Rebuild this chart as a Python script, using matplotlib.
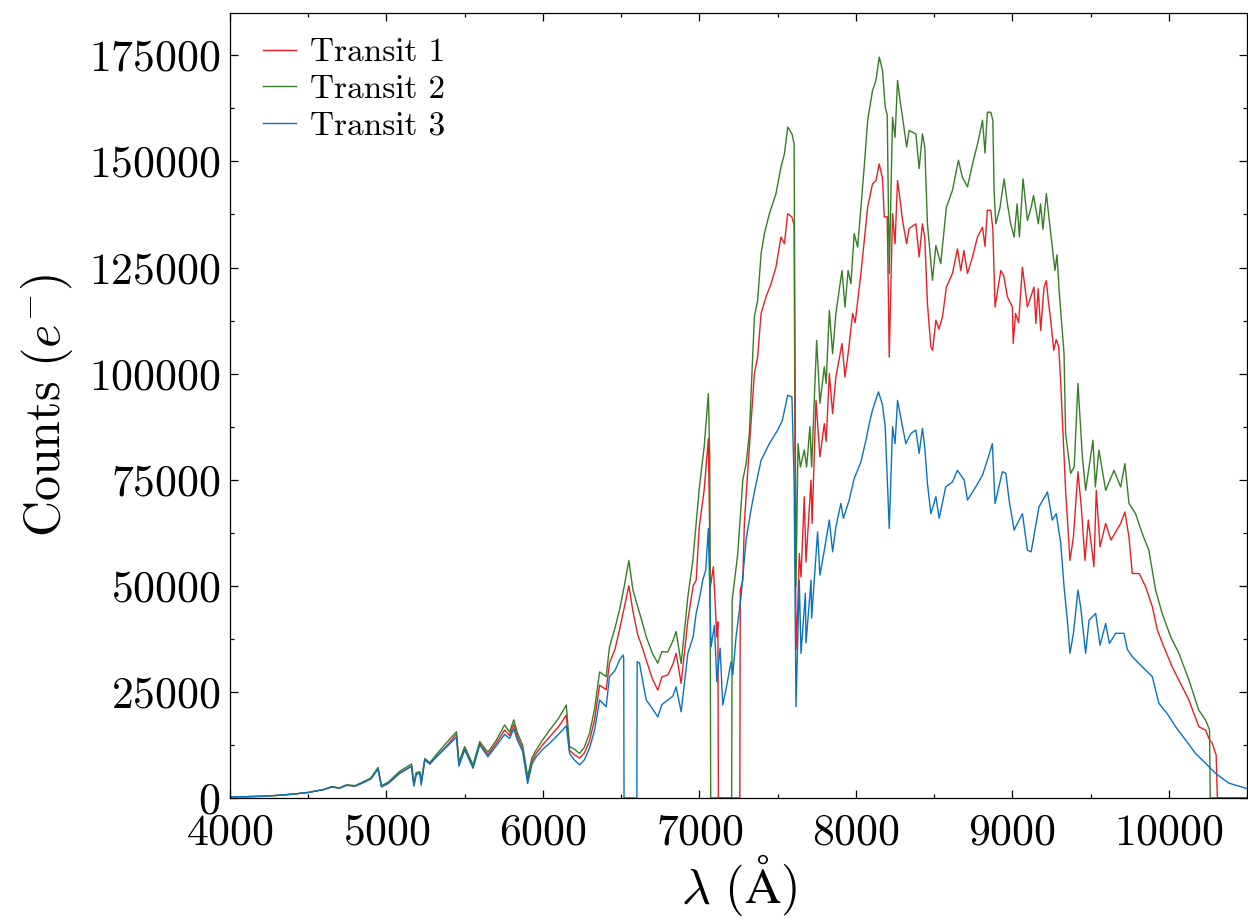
import numpy as np
import matplotlib
matplotlib.use('Agg')
import matplotlib.pyplot as plt
from matplotlib.ticker import MultipleLocator

plt.rcParams['font.family'] = 'serif'
plt.rcParams['font.serif'] = ['cmr10']
plt.rcParams['mathtext.fontset'] = 'cm'
plt.rcParams['axes.formatter.use_mathtext'] = True
plt.rcParams['axes.unicode_minus'] = False

# shared blue end of the spectrum (4000-6500 A)
wl_low = [4000, 4100, 4200, 4300, 4400, 4500, 4600, 4650, 4700, 4745,
          4800, 4850, 4900, 4946, 4968, 5010, 5085, 5160, 5175, 5190,
          5213, 5222, 5245, 5277, 5320, 5383, 5447, 5463, 5500, 5553,
          5596, 5648, 5702, 5755, 5787, 5813, 5838, 5870, 5902, 5930,
          5957, 6000, 6043, 6100, 6149, 6170, 6200, 6234, 6265, 6298,
          6330, 6362, 6404, 6425, 6460, 6489]
t1_low = [300, 300, 400, 600, 900, 1300, 2000, 2600, 2300, 3000,
          2800, 3600, 4500, 6900, 2700, 3400, 5800, 7500, 3000, 5700,
          5900, 3500, 9000, 8000, 9800, 12200, 15000, 8000, 11600, 7300,
          12800, 10200, 12900, 16000, 14700, 17300, 14300, 11700, 4200, 8700,
          10500, 12600, 14400, 16800, 19500, 11200, 10200, 9400, 10600, 13500,
          18500, 26600, 25500, 31800, 35000, 39600]
t2_low = [300, 300, 400, 600, 900, 1300, 2000, 2700, 2400, 3100,
          2900, 3800, 4700, 7200, 2900, 3700, 6300, 8000, 3500, 6000,
          6200, 4000, 9300, 8300, 10300, 13000, 15600, 8500, 12100, 7800,
          13300, 10800, 13600, 17200, 15500, 18400, 15200, 12500, 5000, 9500,
          11300, 13800, 16000, 18800, 21900, 12100, 11500, 10500, 12000, 15300,
          21000, 29700, 28600, 35600, 40000, 44300]
t3_low = [300, 300, 400, 600, 900, 1300, 2000, 2600, 2300, 3000,
          2800, 3600, 4500, 6800, 2600, 3400, 5900, 7500, 2800, 5500,
          5900, 3000, 9000, 8000, 9700, 12000, 14300, 7500, 11300, 7000,
          12500, 9700, 12300, 15000, 14000, 16300, 13500, 11000, 3400, 8000,
          9700, 11500, 12900, 15000, 17000, 10500, 9000, 7800, 9000, 11800,
          16000, 23100, 21500, 28600, 30000, 32500]

# Transit 1 (red), 6500 A onwards
wl_t1 = [6520, 6549, 6575, 6606, 6630, 6660, 6700, 6734, 6760, 6798,
         6830, 6851, 6883, 6926, 6960, 6979, 6999, 7030, 7057, 7070,
         7089, 7111, 7118, 7121, 7258, 7261, 7277, 7287, 7309, 7351,
         7372, 7394, 7426, 7458, 7489, 7521, 7543, 7564, 7591, 7605,
         7612, 7617, 7628, 7638, 7649, 7670, 7681, 7713, 7720, 7745,
         7770, 7798, 7810, 7830, 7851, 7872, 7911, 7930, 7953, 7979,
         7995, 8032, 8075, 8106, 8128, 8149, 8170, 8181, 8200, 8213,
         8234, 8250, 8266, 8282, 8298, 8324, 8340, 8383, 8404, 8425,
         8440, 8457, 8479, 8490, 8511, 8530, 8553, 8578, 8617, 8649,
         8670, 8690, 8713, 8745, 8777, 8809, 8825, 8840, 8862, 8875,
         8889, 8926, 8945, 8968, 9000, 9005, 9020, 9040, 9064, 9096,
         9138, 9150, 9165, 9181, 9202, 9217, 9230, 9245, 9264, 9280,
         9296, 9309, 9340, 9368, 9390, 9419, 9440, 9464, 9485, 9521,
         9536, 9560, 9596, 9630, 9692, 9719, 9745, 9766, 9810, 9851,
         9894, 9926, 9968, 10021, 10074, 10128, 10191, 10234, 10260, 10277,
         10302, 10310, 10500]
counts_t1 = [45000, 50000, 44000, 38400, 36000, 32500, 28000, 25400, 28500, 29000,
             31500, 34100, 27000, 41900, 50000, 51300, 63900, 72500, 84700, 49800,
             54500, 38000, 41500, 0, 0, 49000, 51300, 64700, 77200, 100000,
             103900, 114200, 118100, 121200, 125100, 132200, 130600, 137700, 136900, 135000,
             70000, 35000, 44300, 57600, 52100, 71000, 55600, 74900, 64700, 93700,
             80400, 88200, 84000, 100000, 90600, 99200, 107100, 99200, 105500, 114200,
             112000, 123600, 139200, 144700, 145500, 149400, 146000, 136900, 137000, 103900,
             137700, 130600, 145500, 141000, 136100, 130600, 134200, 135300, 127500, 135300,
             132000, 116500, 106300, 105500, 112600, 110500, 113300, 120400, 123600, 129400,
             124300, 129000, 123600, 127500, 132200, 134500, 130000, 138500, 138500, 134000,
             115700, 124300, 123000, 118100, 115700, 107100, 114200, 112000, 125100, 115700,
             120400, 111800, 120000, 110200, 120400, 121900, 117000, 112600, 105500, 108000,
             106300, 97700, 72500, 56000, 61500, 76900, 68600, 56000, 65500, 54500,
             72500, 59200, 64700, 60800, 64700, 67400, 61500, 52900, 52900, 49800,
             45100, 39600, 35600, 30900, 27000, 23100, 16800, 16000, 13700, 12900,
             10100, 0, 0]

# Transit 2 (green)
wl_t2 = [6520, 6549, 6575, 6606, 6630, 6660, 6700, 6734, 6760, 6798,
         6830, 6851, 6883, 6926, 6958, 6999, 7030, 7057, 7066, 7072,
         7206, 7209, 7245, 7277, 7298, 7319, 7351, 7372, 7394, 7415,
         7447, 7489, 7521, 7543, 7564, 7591, 7605, 7612, 7617, 7630,
         7645, 7670, 7685, 7706, 7717, 7749, 7770, 7798, 7810, 7830,
         7851, 7872, 7911, 7930, 7950, 7968, 7989, 8011, 8043, 8053,
         8075, 8106, 8128, 8149, 8170, 8187, 8200, 8213, 8234, 8250,
         8266, 8282, 8298, 8324, 8340, 8383, 8404, 8425, 8440, 8457,
         8489, 8511, 8542, 8578, 8617, 8655, 8680, 8713, 8745, 8777,
         8809, 8825, 8840, 8862, 8875, 8883, 8894, 8920, 8947, 8968,
         8989, 9011, 9030, 9045, 9068, 9096, 9120, 9135, 9166, 9180,
         9195, 9217, 9238, 9255, 9272, 9285, 9300, 9330, 9340, 9372,
         9395, 9419, 9447, 9468, 9515, 9530, 9553, 9596, 9649, 9692,
         9719, 9745, 9787, 9830, 9872, 9915, 9957, 10011, 10064, 10128,
         10191, 10234, 10260, 10264, 10500]
counts_t2 = [50000, 56000, 49000, 45000, 42000, 38000, 34000, 31800, 34500, 34400,
             37000, 39200, 31700, 47400, 56000, 73000, 82700, 95300, 80000, 0,
             0, 46600, 57600, 74900, 78800, 85900, 113300, 117300, 128300, 133000,
             137700, 142400, 148700, 151800, 158100, 156500, 154100, 90000, 50000, 83500,
             78000, 82000, 78000, 87500, 78000, 107800, 93000, 101600, 97700, 114900,
             104700, 114200, 124300, 115700, 124300, 121200, 133000, 129800, 144000, 148700,
             159700, 166700, 169100, 174600, 171400, 162800, 161000, 123600, 160400, 155700,
             169100, 164400, 160400, 153400, 157300, 156500, 148300, 156500, 153400, 135300,
             122000, 130200, 125900, 139200, 143200, 150300, 146300, 144000, 149400, 154100,
             159700, 152000, 161600, 161600, 159700, 143200, 135300, 139000, 145900, 140000,
             135300, 132200, 140000, 132200, 145900, 136100, 139200, 142000, 135300, 140000,
             134000, 142400, 135300, 129800, 124300, 128000, 118800, 104700, 85900, 76500,
             78000, 97700, 80400, 72500, 84300, 73300, 82000, 72500, 77200, 73300,
             78800, 69400, 67000, 62300, 58400, 49000, 43500, 38000, 34100, 27800,
             20700, 18400, 16000, 0, 0]

# Transit 3 (blue)
wl_t3 = [6512, 6516, 6518, 6600, 6602, 6617, 6640, 6660, 6700, 6734,
         6760, 6798, 6830, 6851, 6883, 6926, 6960, 6979, 7000, 7021,
         7040, 7057, 7074, 7096, 7111, 7132, 7149, 7177, 7202, 7213,
         7234, 7266, 7298, 7330, 7351, 7394, 7447, 7500, 7530, 7564,
         7591, 7605, 7617, 7638, 7649, 7677, 7681, 7713, 7717, 7755,
         7770, 7798, 7830, 7851, 7872, 7904, 7920, 7957, 7989, 8032,
         8064, 8085, 8106, 8144, 8170, 8187, 8213, 8234, 8250, 8266,
         8290, 8319, 8351, 8383, 8404, 8425, 8440, 8457, 8479, 8511,
         8532, 8574, 8617, 8649, 8692, 8713, 8766, 8809, 8840, 8872,
         8889, 8936, 8958, 8979, 9011, 9021, 9064, 9096, 9120, 9170,
         9224, 9255, 9280, 9309, 9330, 9351, 9368, 9390, 9419, 9436,
         9468, 9490, 9532, 9560, 9596, 9620, 9660, 9713, 9735, 9766,
         9830, 9894, 9936, 9989, 10043, 10106, 10170, 10234, 10298, 10383,
         10500]
counts_t3 = [33700, 33000, 0, 0, 32100, 31800, 27000, 23100, 21000, 19100,
             22000, 23100, 24000, 26200, 20300, 34100, 38000, 43500, 47000, 51300,
             53700, 63500, 35600, 40700, 27400, 35300, 21900, 27000, 32100, 29000,
             38000, 47400, 60800, 68000, 72100, 79600, 83500, 86700, 89000, 94900,
             94500, 74900, 21500, 51300, 34100, 48200, 36500, 51300, 42400, 62700,
             52500, 58400, 65500, 58000, 63900, 69400, 65900, 70200, 75300, 79200,
             84300, 88200, 91400, 95700, 92600, 87500, 63500, 87500, 83500, 93700,
             89000, 83500, 85900, 86700, 81200, 87100, 82700, 74100, 67000, 71000,
             65900, 73300, 74500, 77200, 74900, 70200, 73300, 76100, 79600, 83500,
             69400, 76900, 76500, 70200, 63100, 63900, 67000, 58400, 58000, 68600,
             72100, 65500, 67000, 60000, 49800, 41900, 34100, 38800, 49000, 45100,
             34100, 41900, 43500, 36000, 41100, 36400, 38800, 38800, 35000, 33300,
             30900, 28600, 22300, 19900, 16800, 13700, 10500, 8200, 5800, 3500,
             2200]

labels = ['Transit 1', 'Transit 2', 'Transit 3']
colors = ['#ee1d23', '#367f25', '#0a72c4']

series = [(wl_low + wl_t1, t1_low + counts_t1),
          (wl_low + wl_t2, t2_low + counts_t2),
          (wl_low + wl_t3, t3_low + counts_t3)]

fig = plt.figure(figsize=(12.48, 9.24), dpi=100)
ax = fig.add_axes([0.1843, 0.1364, 0.8150, 0.8496])

for (wl, cnt), lab, col in zip(series, labels, colors):
    ax.plot(wl, cnt, color=col, lw=1.0, label=lab)

ax.set_xlim(4000, 10500)
ax.set_ylim(0, 185000)
ax.xaxis.set_major_locator(MultipleLocator(1000))
ax.xaxis.set_minor_locator(MultipleLocator(500))
ax.yaxis.set_major_locator(MultipleLocator(25000))
ax.yaxis.set_minor_locator(MultipleLocator(12500))
ax.tick_params(which='both', direction='in', top=True, right=True, width=0.9)
ax.tick_params(which='major', length=6, labelsize=31.5)
ax.tick_params(axis='x', which='major', pad=11)
ax.tick_params(axis='y', which='major', pad=7)
ax.tick_params(which='minor', length=3)
for sp in ax.spines.values():
    sp.set_linewidth(0.9)

ax.set_xlabel(r'$\lambda\ (\mathrm{\AA})$', fontsize=36, labelpad=-1)
ax.set_ylabel(r'$\mathrm{Counts}\ (e^{-})$', fontsize=36, labelpad=10)

ax.legend(loc='upper left', bbox_to_anchor=(0.008, 1.0), frameon=False,
          fontsize=24, handlelength=1.0, handletextpad=0.4,
          labelspacing=0.22, borderaxespad=0.35)

fig.savefig('out.png', dpi=100)
